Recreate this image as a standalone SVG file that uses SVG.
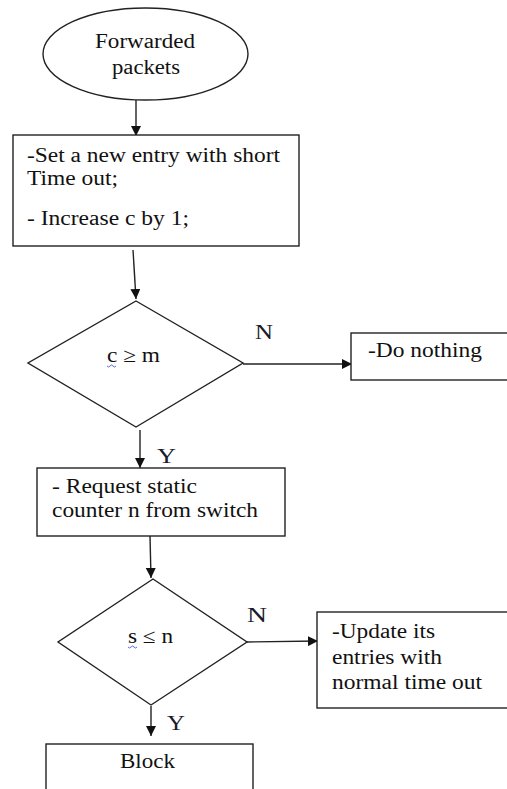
<svg xmlns="http://www.w3.org/2000/svg" width="507" height="789" viewBox="0 0 507 789">
<style>
.s{fill:#fff;stroke:#222;stroke-width:1.4}
.c{fill:none;stroke:#222;stroke-width:1.4}
.t{font-family:'Liberation Serif','Times New Roman',serif;font-size:20px;fill:#111}
.l{font-family:'Liberation Serif','Times New Roman',serif;font-size:20px;fill:#1a1a2a}
</style>
<defs>
<marker id="ah" viewBox="0 0 10 10" refX="10" refY="5" markerWidth="10" markerHeight="10" markerUnits="userSpaceOnUse" orient="auto">
<path d="M0,0 L10,5 L0,10 z" fill="#111"/>
</marker>
</defs>
<rect width="507" height="789" fill="#fff"/>
<g font-family="'Liberation Serif', 'Times New Roman', serif">
<g id="connectors">
<line class="c" x1="136" y1="100" x2="136" y2="136" marker-end="url(#ah)"/>
<line class="c" x1="133" y1="250" x2="136" y2="299" marker-end="url(#ah)"/>
<line class="c" x1="243" y1="364" x2="352" y2="364" marker-end="url(#ah)"/>
<line class="c" x1="140" y1="430" x2="140" y2="468" marker-end="url(#ah)"/>
<line class="c" x1="150" y1="536" x2="151" y2="578" marker-end="url(#ah)"/>
<line class="c" x1="247" y1="642" x2="318" y2="641" marker-end="url(#ah)"/>
<line class="c" x1="151" y1="706" x2="151" y2="736" marker-end="url(#ah)"/>
<text class="l" x="255" y="339" textLength="18" lengthAdjust="spacingAndGlyphs">N</text>
<text class="l" x="157" y="463" textLength="19" lengthAdjust="spacingAndGlyphs">Y</text>
<text class="l" x="247" y="622" textLength="20" lengthAdjust="spacingAndGlyphs">N</text>
<text class="l" x="167" y="730" textLength="18" lengthAdjust="spacingAndGlyphs">Y</text>
</g>
<g id="start">
<ellipse class="s" cx="145.5" cy="54" rx="102.5" ry="46"/>
<text class="t" x="95" y="48" textLength="100" lengthAdjust="spacingAndGlyphs">Forwarded</text>
<text class="t" x="112" y="74" textLength="68" lengthAdjust="spacingAndGlyphs">packets</text>
</g>
<g id="set-entry">
<rect class="s" x="13" y="135" width="286" height="111"/>
<text class="t" x="27" y="162" textLength="253" lengthAdjust="spacingAndGlyphs">-Set a new entry with short</text>
<text class="t" x="27" y="185" textLength="91" lengthAdjust="spacingAndGlyphs">Time out;</text>
<text class="t" x="27" y="225" textLength="162" lengthAdjust="spacingAndGlyphs">- Increase c by 1;</text>
</g>
<g id="decision-c">
<polygon class="s" points="136,301 243,363 136,427 28,363"/>
<text class="t" x="107" y="362" textLength="53" lengthAdjust="spacingAndGlyphs">c ≥ m</text>
<path d="M107,366 q1.5,2 3,0 t3,0 t3,0" fill="none" stroke="#3344dd" stroke-width="0.8"/>
</g>
<g id="do-nothing">
<rect class="s" x="351" y="333" width="170" height="47"/>
<text class="t" x="368" y="357" textLength="114" lengthAdjust="spacingAndGlyphs">-Do nothing</text>
</g>
<g id="request">
<rect class="s" x="37" y="468" width="248" height="68"/>
<text class="t" x="52" y="493" textLength="145" lengthAdjust="spacingAndGlyphs">- Request static</text>
<text class="t" x="52" y="517" textLength="206" lengthAdjust="spacingAndGlyphs">counter n from switch</text>
</g>
<g id="decision-s">
<polygon class="s" points="153,579 247,642 151,705 58,642"/>
<text class="t" x="128" y="643" textLength="45" lengthAdjust="spacingAndGlyphs">s ≤ n</text>
<path d="M128,647 q1.5,2 3,0 t3,0 t3,0" fill="none" stroke="#3344dd" stroke-width="0.8"/>
</g>
<g id="update">
<rect class="s" x="317" y="612" width="200" height="96"/>
<text class="t" x="332" y="638" textLength="103" lengthAdjust="spacingAndGlyphs">-Update its</text>
<text class="t" x="332" y="664" textLength="110" lengthAdjust="spacingAndGlyphs">entries with</text>
<text class="t" x="332" y="689" textLength="150" lengthAdjust="spacingAndGlyphs">normal time out</text>
</g>
<g id="block">
<rect class="s" x="46" y="744" width="207" height="60"/>
<text class="t" x="120" y="768" textLength="55" lengthAdjust="spacingAndGlyphs">Block</text>
</g>
</g>
</svg>
